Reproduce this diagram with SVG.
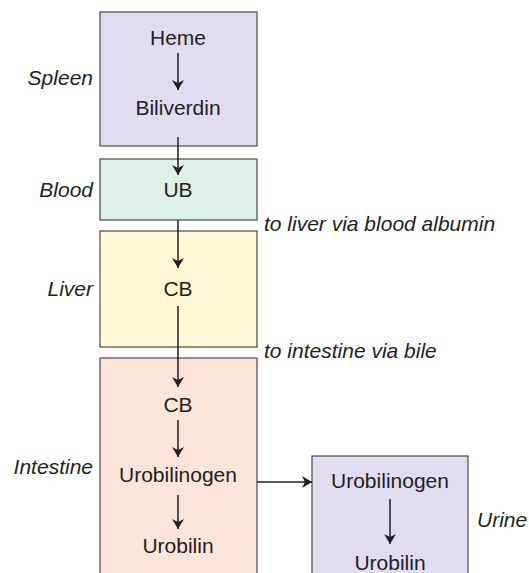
<svg xmlns="http://www.w3.org/2000/svg" width="529" height="573" viewBox="0 0 529 573">
<style>
.box{stroke:#4a4a4a;stroke-width:1.2}
.t{font-family:"Liberation Sans",Arial,sans-serif;font-size:21px;fill:#231f20;text-anchor:middle}
.lab{font-family:"Liberation Sans",Arial,sans-serif;font-size:21px;font-style:italic;fill:#231f20;text-anchor:end}
.note{font-family:"Liberation Sans",Arial,sans-serif;font-size:21px;font-style:italic;fill:#231f20}
.c{stroke:#231f20;stroke-width:1.5;fill:none;marker-end:url(#ah)}
</style>
<defs>
<marker id="ah" viewBox="0 0 10 12" refX="10" refY="6" markerWidth="11" markerHeight="12" markerUnits="userSpaceOnUse" orient="auto">
<path d="M0,0 L10,6 L0,12 L3,6 Z" fill="#231f20"/>
</marker>
</defs>
<rect width="529" height="573" fill="#fff"/>
<g id="spleen">
<rect class="box" x="100" y="12" width="157" height="134" fill="#e1dcef"/>
<text class="t" x="178" y="45">Heme</text>
<text class="t" x="178" y="115">Biliverdin</text>
<text class="lab" x="93" y="85">Spleen</text>
</g>
<g id="blood">
<rect class="box" x="100" y="159" width="157" height="61" fill="#dff0e6"/>
<text class="t" x="178" y="197">UB</text>
<text class="lab" x="93" y="197">Blood</text>
</g>
<g id="liver">
<rect class="box" x="100" y="231" width="157" height="116" fill="#fff8d6"/>
<text class="t" x="178" y="296">CB</text>
<text class="lab" x="93" y="296">Liver</text>
</g>
<g id="intestine">
<rect class="box" x="100" y="358" width="157" height="230" fill="#fde4db"/>
<text class="t" x="178" y="412">CB</text>
<text class="t" x="178" y="482">Urobilinogen</text>
<text class="t" x="178" y="553">Urobilin</text>
<text class="lab" x="93" y="474">Intestine</text>
</g>
<g id="urine">
<rect class="box" x="312" y="456" width="156" height="130" fill="#e1dcef"/>
<text class="t" x="390" y="488">Urobilinogen</text>
<text class="t" x="390" y="570">Urobilin</text>
<text class="note" x="477" y="527">Urine</text>
</g>
<g id="notes">
<text class="note" x="264" y="231">to liver via blood albumin</text>
<text class="note" x="264" y="358">to intestine via bile</text>
</g>
<g id="connectors">
<line class="c" x1="178" y1="53" x2="178" y2="90"/>
<line class="c" x1="178" y1="137" x2="178" y2="175"/>
<line class="c" x1="178" y1="220" x2="178" y2="268"/>
<line class="c" x1="178" y1="306" x2="178" y2="387"/>
<line class="c" x1="178" y1="420" x2="178" y2="457"/>
<line class="c" x1="178" y1="495" x2="178" y2="529"/>
<line class="c" x1="257" y1="482" x2="312" y2="482"/>
<line class="c" x1="390" y1="499" x2="390" y2="544"/>
</g>
</svg>
